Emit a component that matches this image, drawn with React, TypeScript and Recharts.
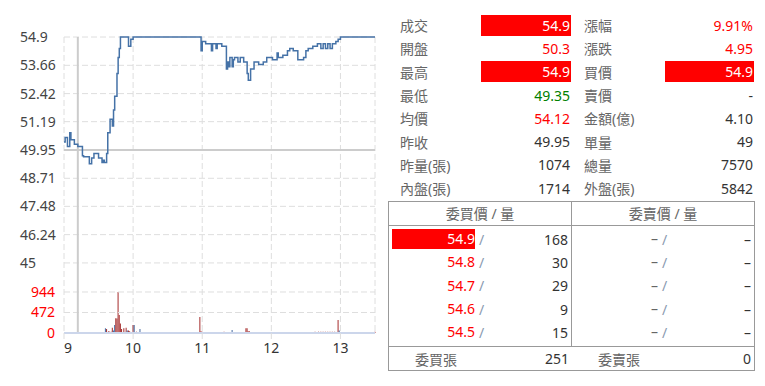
import React from 'react';
import { ComposedChart, Line, Bar, Cell, XAxis, YAxis, CartesianGrid, ReferenceLine } from 'recharts';

// ---- intraday price (minutes after 09:00) ----
const priceTimes = [0, 1, 3, 5, 6, 9, 12, 16, 17, 22, 24, 26, 30, 33, 34, 35, 37, 38, 40, 42, 43, 44, 46, 47, 48, 49, 56, 58, 60,
  119, 120, 123, 128, 129, 132, 133, 137, 141, 142, 143, 144, 146, 147, 148, 151, 153, 156, 159, 160, 162, 165, 169, 173, 176,
  181, 185, 186, 190, 194, 196, 199, 203, 208, 210, 212, 216, 220, 223, 225, 227, 229, 231, 233, 236, 238, 240, 270];
const priceValues = [50.3, 50.5, 50.1, 50.7, 50.4, 50.2, 50.1, 49.7, 49.65, 49.35, 49.6, 49.8, 49.6, 49.4, 49.5, 49.4, 49.8, 50.7, 51.3, 51.0, 51.7, 52.3, 53.3, 54.0, 54.4, 54.9, 54.5, 54.8, 54.9,
  54.3, 54.7, 54.6, 54.3, 54.6, 54.4, 54.6, 54.5, 53.5, 53.8, 53.6, 54.0, 53.6, 53.9, 54.0, 53.8, 54.0, 53.8, 53.3, 53.0, 53.5, 53.8, 53.7, 53.8, 54.0,
  53.9, 54.2, 54.0, 54.1, 54.3, 54.4, 54.3, 53.9, 54.0, 54.3, 54.4, 54.5, 54.6, 54.4, 54.6, 54.4, 54.6, 54.4, 54.6, 54.7, 54.8, 54.9, 54.9];

// ---- per-minute volume (張) and side: B = outer (buy), S = inner (sell) ----
const volTimes = [36, 37, 39, 41, 42, 43, 44, 45, 46, 47, 48, 49, 50, 52, 54, 55, 56, 57, 60, 61, 63, 66,
  118, 119, 120, 121, 127, 131, 139, 146, 155, 158, 159, 160, 161, 176, 182, 184, 195, 196, 203, 218,
  221, 223, 225, 227, 229, 231, 233, 235, 238, 239, 270];
const volValues = [110, 90, 45, 30, 120, 60, 185, 340, 335, 944, 415, 220, 90, 110, 120, 60, 60, 40, 185, 185, 30, 92,
  370, 40, 30, 25, 25, 20, 30, 70, 20, 110, 110, 40, 40, 25, 25, 20, 20, 25, 25, 30,
  30, 30, 30, 30, 30, 30, 30, 30, 300, 60, 30];
const volSides = ['S', 'B', 'B', 'B', 'B', 'S', 'S', 'B', 'B', 'B', 'B', 'B', 'B', 'B', 'B', 'S', 'B', 'B', 'B', 'S', 'B', 'S',
  'B', 'B', 'B', 'S', 'B', 'S', 'B', 'S', 'S', 'B', 'B', 'B', 'B', 'B', 'S', 'B', 'B', 'B', 'B', 'B',
  'B', 'B', 'B', 'B', 'B', 'B', 'B', 'B', 'B', 'S', 'B'];

const prevClose = 49.95;
const limitUp = 54.9;
const priceTicks = [45, 46.24, 47.48, 48.71, 49.95, 51.19, 52.42, 53.66, 54.9];
const volTicks = [472, 944];
const timeTicks = [0, 60, 120, 180, 240];
const timeLabels = ['9', '10', '11', '12', '13'];
const cursorTime = 12;

// ---- quote panel ----
const leftLabels = ['成交', '開盤', '最高', '最低', '均價', '昨收', '昨量(張)', '內盤(張)'];
const leftValues = ['54.9', '50.3', '54.9', '49.35', '54.12', '49.95', '1074', '1714'];
const leftKinds = ['price', 'price', 'price', 'price', 'price', 'plain', 'plain', 'plain'];
const rightLabels = ['漲幅', '漲跌', '買價', '賣價', '金額(億)', '單量', '總量', '外盤(張)'];
const rightValues = ['9.91%', '4.95', '54.9', '-', '4.10', '49', '7570', '5842'];
const rightKinds = ['change', 'change', 'price', 'plain', 'plain', 'plain', 'plain', 'plain'];

// ---- order book ----
const bidPrices = ['54.9', '54.8', '54.7', '54.6', '54.5'];
const bidVols = ['168', '30', '29', '9', '15'];
const askPrices = ['–', '–', '–', '–', '–'];
const askVols = ['–', '–', '–', '–', '–'];
const bidTotal = '251';
const askTotal = '0';

const FONT = '"Noto Sans", "Noto Sans CJK TC", sans-serif';
const FS = 14;
const RED = '#ff0000';
const GREEN = '#008000';
const DARK = '#333333';
const LABEL = '#666666';

const allTimes = Array.from(new Set([...priceTimes, ...volTimes])).sort((a, b) => a - b);
const chartData = allTimes.map((t) => {
  const pi = priceTimes.indexOf(t);
  const vi = volTimes.indexOf(t);
  return {
    t,
    price: pi >= 0 ? priceValues[pi] : null,
    vol: vi >= 0 ? volValues[vi] : null,
    side: vi >= 0 ? volSides[vi] : null,
  };
});

function valueStyle(v: string, kind: string): { color: string; bg?: string } {
  const n = parseFloat(v);
  if (isNaN(n) || kind === 'plain') return { color: DARK };
  if (kind === 'change') return { color: n > 0 ? RED : n < 0 ? GREEN : DARK };
  if (n >= limitUp) return { color: '#ffffff', bg: RED };
  if (n > prevClose) return { color: RED };
  if (n < prevClose) return { color: GREEN };
  return { color: DARK };
}

const PriceTick = (props: any) => {
  const { y, payload } = props;
  return (
    <text x={20} y={y} dy="0.36em" textAnchor="start" fill="#444" fontSize={FS} fontFamily={FONT}>
      {payload.value}
    </text>
  );
};

const TimeTick = (props: any) => {
  const { x, y, payload, index } = props;
  const i = timeTicks.indexOf(payload.value);
  return (
    <text x={x} y={y} dy="0.85em" textAnchor={index === 0 ? 'start' : 'middle'} fill="#333" fontSize={FS} fontFamily={FONT}>
      {timeLabels[i]}
    </text>
  );
};

const gridStroke = '#dedede';
const dash = '6 3';

function PriceChart() {
  return (
    <ComposedChart width={385} height={370} data={chartData} margin={{ top: 37, right: 10, bottom: 7, left: 0 }}>
      <CartesianGrid yAxisId="price" stroke={gridStroke} strokeDasharray={dash} />
      <XAxis
        dataKey="t"
        type="number"
        domain={[0, 270]}
        ticks={timeTicks}
        interval={0}
        height={30}
        axisLine={{ stroke: '#ccd6eb', strokeWidth: 2 }}
        tickLine={{ stroke: '#dddddd' }}
        tickSize={6}
        tick={<TimeTick />}
      />
      <YAxis yAxisId="price" domain={[41.93, 54.9]} ticks={priceTicks} interval={0} width={64} axisLine={false} tickLine={false} tick={<PriceTick />} />
      <YAxis yAxisId="vol" domain={[0, 6815]} hide />
      {volTicks.map((v) => (
        <ReferenceLine key={v} yAxisId="vol" y={v} stroke={gridStroke} strokeDasharray={dash}
          label={{ value: String(v), position: 'left', offset: 9, fill: RED, fontSize: FS, fontFamily: FONT }} />
      ))}
      <ReferenceLine yAxisId="vol" y={0} stroke="none"
        label={{ value: '0', position: 'left', offset: 9, fill: RED, fontSize: FS, fontFamily: FONT }} />
      <ReferenceLine yAxisId="price" y={prevClose} stroke="#cccccc" strokeWidth={2} />
      <ReferenceLine yAxisId="price" x={cursorTime} stroke="#cccccc" strokeWidth={2} />
      <Bar yAxisId="vol" dataKey="vol" barSize={1.3} isAnimationActive={false}>
        {chartData.map((d, i) => (
          <Cell key={i} fill={d.side === 'S' ? '#4a6fa5' : '#a83232'} />
        ))}
      </Bar>
      <Line yAxisId="price" dataKey="price" type="stepAfter" stroke="#4572a7" strokeWidth={1.5} dot={false} connectNulls isAnimationActive={false} />
    </ComposedChart>
  );
}

function ValueCell({ v, kind, width }: { v: string; kind: string; width: number }) {
  const s = valueStyle(v, kind);
  return (
    <div style={{ width, height: 21, lineHeight: '21px', textAlign: 'right', paddingRight: 1, boxSizing: 'border-box', color: s.color, background: s.bg || 'transparent' }}>
      {v}
    </div>
  );
}

function QuotePanel() {
  return (
    <div style={{ position: 'absolute', left: 390, top: 13.5, width: 375, fontFamily: FONT, fontSize: FS }}>
      {leftLabels.map((l, i) => (
        <div key={i} style={{ display: 'flex', alignItems: 'center', height: 23.3 }}>
          <div style={{ width: 91, paddingLeft: 10, boxSizing: 'border-box', color: LABEL }}>{l}</div>
          <ValueCell v={leftValues[i]} kind={leftKinds[i]} width={90} />
          <div style={{ width: 94, paddingLeft: 13, boxSizing: 'border-box', color: LABEL }}>{rightLabels[i]}</div>
          <ValueCell v={rightValues[i]} kind={rightKinds[i]} width={89} />
        </div>
      ))}
    </div>
  );
}

function BookSide({ prices, vols }: { prices: string[]; vols: string[] }) {
  return (
    <div style={{ paddingTop: 1.5 }}>
      {prices.map((p, i) => {
        const s = valueStyle(p, 'price');
        return (
          <div key={i} style={{ display: 'flex', alignItems: 'center', height: 23.3 }}>
            <div style={{ marginLeft: 3, width: 83, height: 20, lineHeight: '20px', textAlign: 'right', boxSizing: 'border-box', color: s.color === DARK ? LABEL : s.color, background: s.bg || 'transparent' }}>{p}</div>
            <div style={{ marginLeft: 4, color: '#8a9ab0' }}>/</div>
            <div style={{ flex: 1, textAlign: 'right', paddingRight: 3, color: DARK }}>{vols[i]}</div>
          </div>
        );
      })}
    </div>
  );
}

function OrderBook() {
  return (
    <div style={{ position: 'absolute', left: 388, top: 201, width: 367, height: 170, border: '1px solid #999', boxSizing: 'border-box', fontFamily: FONT, fontSize: FS }}>
      <div style={{ display: 'flex', height: 24, borderBottom: '1px solid #999', boxSizing: 'border-box' }}>
        <div style={{ width: 182, borderRight: '1px solid #999', textAlign: 'center', lineHeight: '23px', color: LABEL }}>委買價 / 量</div>
        <div style={{ flex: 1, textAlign: 'center', lineHeight: '23px', color: LABEL }}>委賣價 / 量</div>
      </div>
      <div style={{ display: 'flex', height: 121, borderBottom: '1px solid #999', boxSizing: 'border-box' }}>
        <div style={{ width: 182, borderRight: '1px solid #999' }}>
          <BookSide prices={bidPrices} vols={bidVols} />
        </div>
        <div style={{ flex: 1 }}>
          <BookSide prices={askPrices} vols={askVols} />
        </div>
      </div>
      <div style={{ display: 'flex', height: 23, alignItems: 'center' }}>
        <div style={{ width: 183, display: 'flex' }}>
          <div style={{ paddingLeft: 26, color: LABEL }}>委買張</div>
          <div style={{ flex: 1, textAlign: 'right', paddingRight: 3, color: DARK }}>{bidTotal}</div>
        </div>
        <div style={{ flex: 1, display: 'flex' }}>
          <div style={{ paddingLeft: 26, color: LABEL }}>委賣張</div>
          <div style={{ flex: 1, textAlign: 'right', paddingRight: 3, color: DARK }}>{askTotal}</div>
        </div>
      </div>
    </div>
  );
}

export default function App() {
  return (
    <div style={{ position: 'absolute', left: 0, top: 0, width: 765, height: 386, background: '#fff', fontFamily: FONT }}>
      <div style={{ position: 'absolute', left: 0, top: 0 }}>
        <PriceChart />
      </div>
      <QuotePanel />
      <OrderBook />
    </div>
  );
}
